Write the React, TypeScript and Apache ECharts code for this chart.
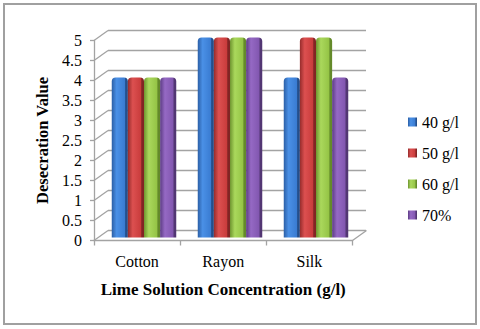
import React, { useEffect, useRef } from "react";
import * as echarts from "echarts";

const categories = ["Cotton", "Rayon", "Silk"];
const seriesNames = ["40 g/l", "50 g/l", "60 g/l", "70%"];
const values40 = [4, 5, 4];
const values50 = [4, 5, 5];
const values60 = [4, 5, 5];
const values70 = [4, 5, 4];
const yTicks = [0, 0.5, 1, 1.5, 2, 2.5, 3, 3.5, 4, 4.5, 5];

const FONT = "Liberation Serif, Times New Roman, serif";
const GRID_COLOR = "#a3a3a3";
const DX = 14;
const DY = -10;

const palettes = [
  { dark: "#2b5fa6", light: "#4a90e6", base: "#3a7cd2", side: "#244f8c" },
  { dark: "#962c2c", light: "#dc5050", base: "#c93c3c", side: "#822424" },
  { dark: "#6f9530", light: "#aad85c", base: "#95c446", side: "#648a2a" },
  { dark: "#5c3c84", light: "#9569c4", base: "#8257b0", side: "#523673" },
];

function grad(p: { dark: string; light: string; base: string; side: string }) {
  return new echarts.graphic.LinearGradient(0, 0, 1, 0, [
    { offset: 0, color: p.dark },
    { offset: 0.3, color: p.light },
    { offset: 0.8, color: p.base },
    { offset: 0.86, color: p.side },
    { offset: 1, color: p.side },
  ]);
}

export default function App() {
  const ref = useRef<HTMLDivElement>(null);
  useEffect(() => {
    if (!ref.current) return;
    const chart = echarts.init(ref.current, null, { renderer: "svg" });
    const dataSets = [values40, values50, values60, values70];
    const lineStyle = { stroke: GRID_COLOR, lineWidth: 1.3 };
    chart.setOption({
      animation: false,
      backgroundColor: "#ffffff",
      textStyle: { fontFamily: FONT },
      grid: [
        { left: 108, top: 30.5, width: 258, height: 200 },
        { left: 94, top: 40.5, width: 258.5, height: 200 },
        { left: 101, top: 37.5, width: 258, height: 200 },
      ],
      xAxis: [
        { gridIndex: 0, type: "category", data: categories, show: false },
        {
          gridIndex: 1,
          type: "category",
          data: categories,
          axisLine: { show: true, lineStyle: { color: GRID_COLOR, width: 1.3 } },
          axisTick: { show: true, alignWithLabel: false, length: 5, lineStyle: { color: GRID_COLOR, width: 1.3 } },
          axisLabel: { color: "#000", fontSize: 16, fontFamily: FONT, margin: 13 },
          name: "Lime Solution Concentration (g/l)",
          nameLocation: "middle",
          nameGap: 40,
          nameTextStyle: { color: "#000", fontSize: 17, fontWeight: "bold", fontFamily: FONT },
        },
        { gridIndex: 2, type: "category", data: categories, show: false },
      ],
      yAxis: [
        {
          gridIndex: 0,
          type: "value",
          min: 0,
          max: 5,
          interval: 0.5,
          axisLine: { show: false },
          axisTick: { show: false },
          axisLabel: { show: false },
          splitLine: { show: true, lineStyle: { color: GRID_COLOR, width: 1.3 } },
        },
        {
          gridIndex: 1,
          type: "value",
          min: 0,
          max: 5,
          interval: 0.5,
          axisLine: { show: true, lineStyle: { color: GRID_COLOR, width: 1.3 } },
          axisTick: { show: true, length: 4, lineStyle: { color: GRID_COLOR, width: 1.3 } },
          axisLabel: { color: "#000", fontSize: 16, fontFamily: FONT, margin: 12 },
          splitLine: { show: false },
          name: "Desecration Value",
          nameLocation: "middle",
          nameRotate: 90,
          nameGap: 42,
          nameTextStyle: { color: "#000", fontSize: 16.5, fontWeight: "bold", fontFamily: FONT },
        },
        { gridIndex: 2, type: "value", min: 0, max: 5, show: false, splitLine: { show: false } },
      ],
      legend: {
        orient: "vertical",
        left: 403,
        top: 109,
        itemWidth: 9,
        itemHeight: 9,
        itemGap: 15,
        icon: "rect",
        data: seriesNames,
        textStyle: { color: "#000", fontSize: 16, fontFamily: FONT },
      },
      graphic: [
        {
          type: "rect",
          shape: { x: 4, y: 4, width: 472, height: 320 },
          style: { fill: "none", stroke: "#a0a0a0", lineWidth: 2 },
          silent: true,
        },
      ],
      series: [
        {
          type: "custom",
          xAxisIndex: 1,
          yAxisIndex: 1,
          silent: true,
          clip: false,
          data: yTicks.map((v) => [0, v]),
          renderItem: (params: any, api: any) => {
            const v = api.value(1);
            const p = api.coord([0, v]);
            const cs = params.coordSys;
            const children: any[] = [
              { type: "line", shape: { x1: cs.x, y1: p[1], x2: cs.x + DX, y2: p[1] + DY }, style: lineStyle },
            ];
            if (v === 0) {
              children.push({
                type: "line",
                shape: { x1: cs.x + cs.width, y1: p[1], x2: cs.x + cs.width + DX, y2: p[1] + DY },
                style: lineStyle,
              });
            }
            return { type: "group", children };
          },
        },
        ...dataSets.map((d, i) => ({
          type: "bar",
          name: seriesNames[i],
          xAxisIndex: 2,
          yAxisIndex: 2,
          data: d,
          barGap: "0%",
          barCategoryGap: "25%",
          z: 3,
          itemStyle: { color: grad(palettes[i]), borderRadius: [4, 4, 0, 0] },
        })),
      ],
    });
    return () => chart.dispose();
  }, []);
  return (
    <div
      ref={ref}
      style={{ position: "absolute", left: 0, top: 0, width: 480, height: 329 }}
    />
  );
}
